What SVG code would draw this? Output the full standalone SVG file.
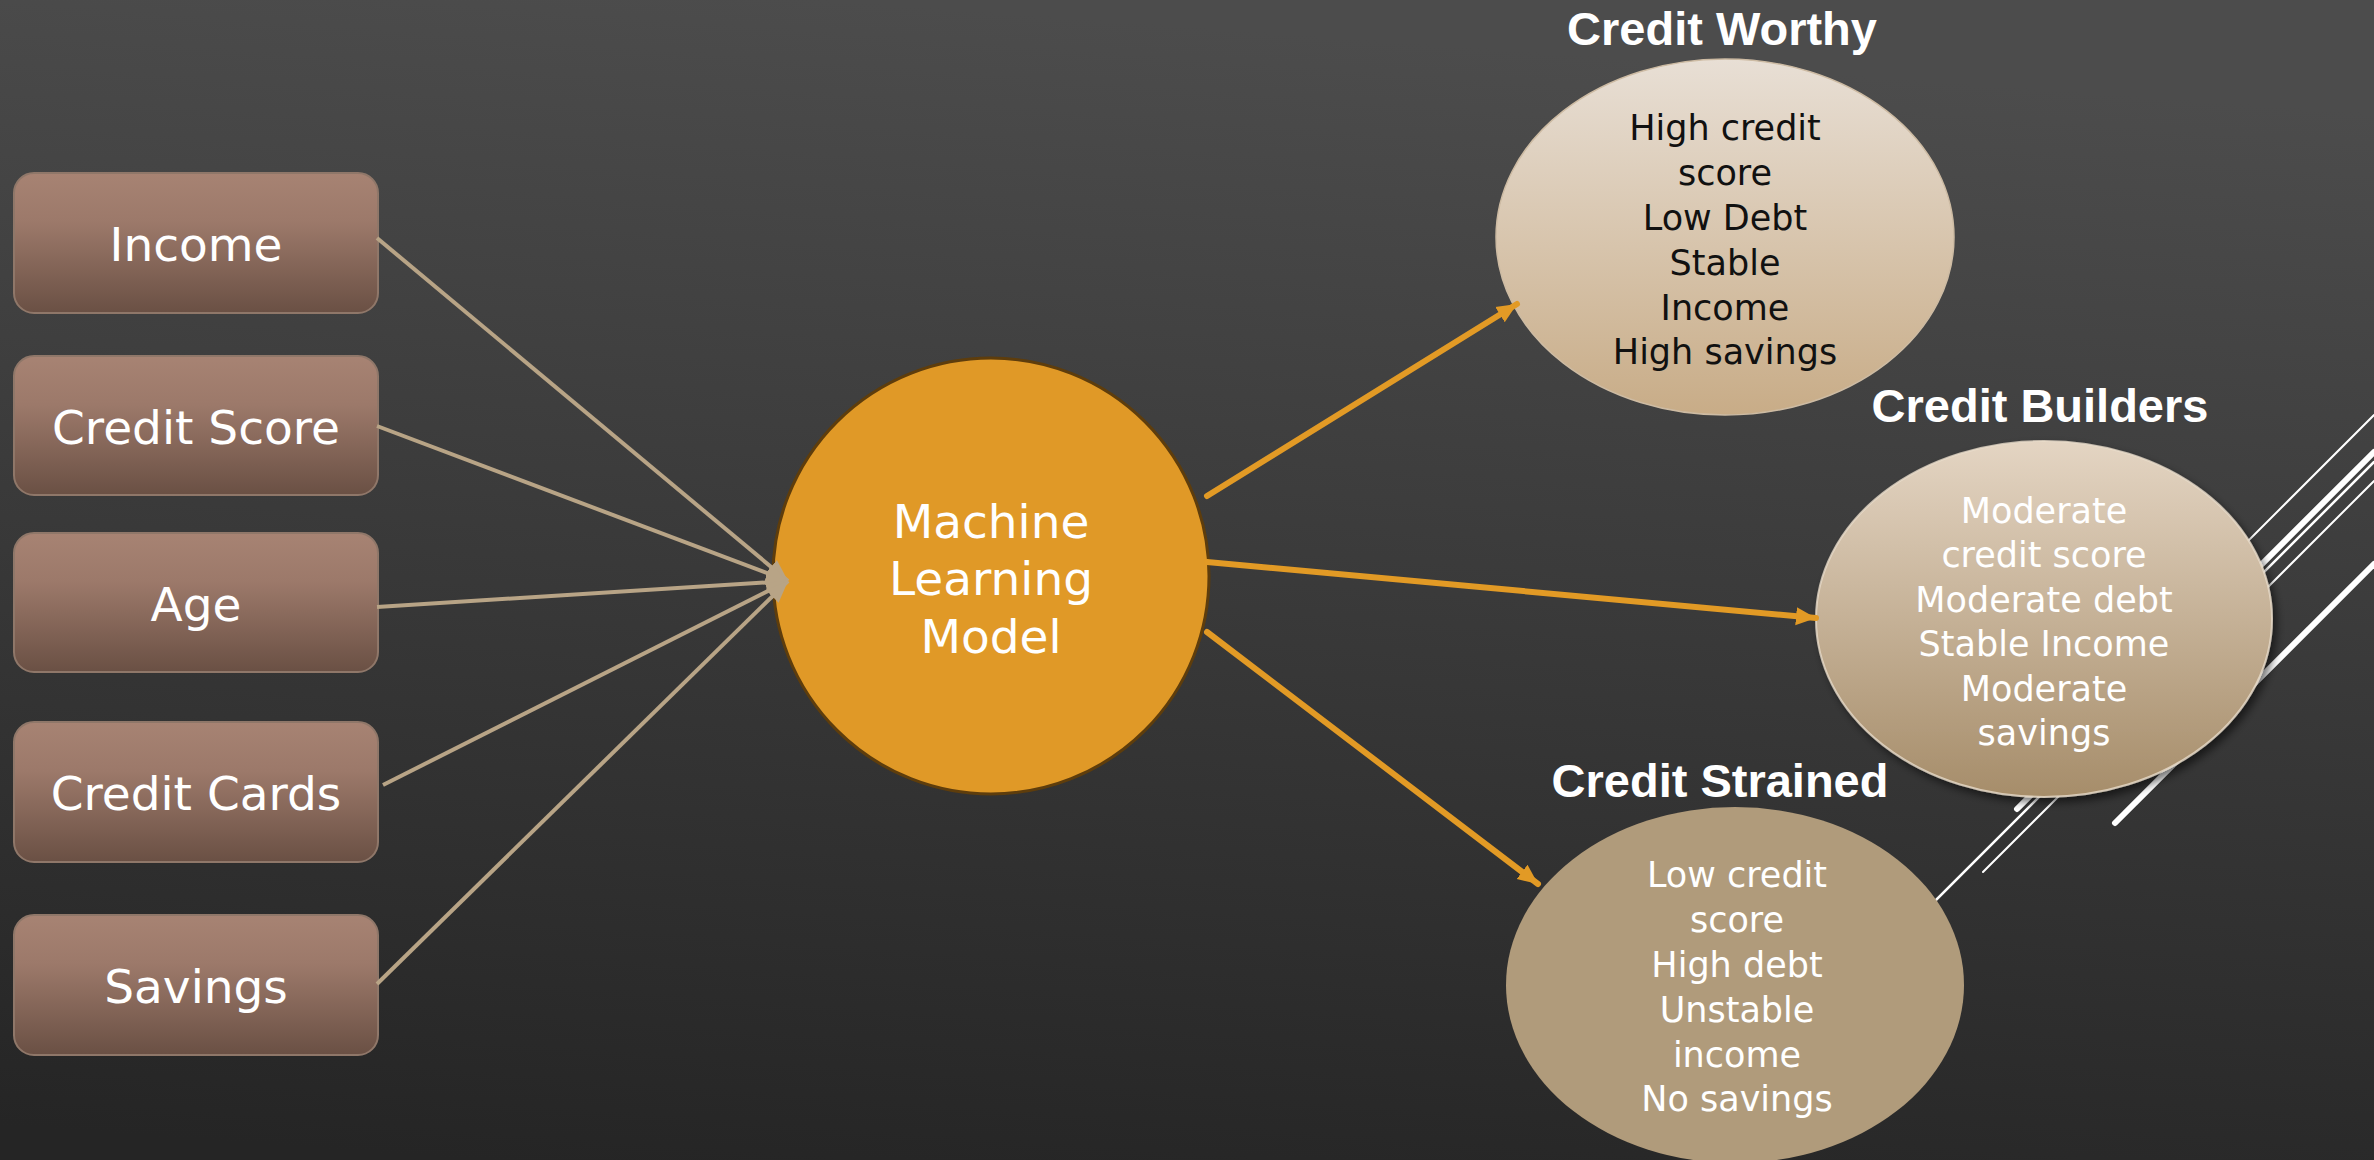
<svg xmlns="http://www.w3.org/2000/svg" width="2374" height="1160" viewBox="0 0 2374 1160">
<defs>
<linearGradient id="bg" x1="0.35" y1="0" x2="0.2" y2="1">
<stop offset="0" stop-color="#4C4C4C"/>
<stop offset="1" stop-color="#252525"/>
</linearGradient>
<linearGradient id="boxg" x1="0" y1="0" x2="0" y2="1">
<stop offset="0" stop-color="#A78373"/>
<stop offset="0.35" stop-color="#9C796A"/>
<stop offset="1" stop-color="#6A5044"/>
</linearGradient>
<linearGradient id="worthyg" x1="0" y1="0" x2="0" y2="1">
<stop offset="0" stop-color="#E8DFD5"/>
<stop offset="1" stop-color="#C8AC87"/>
</linearGradient>
<linearGradient id="buildg" x1="0" y1="0" x2="0" y2="1">
<stop offset="0" stop-color="#E4D5C3"/>
<stop offset="1" stop-color="#A68D6A"/>
</linearGradient>
<filter id="shadow" x="-10%" y="-10%" width="125%" height="130%">
<feDropShadow dx="4" dy="5" stdDeviation="4" flood-color="#000" flood-opacity="0.55"/>
</filter>
<marker id="tanHead" markerUnits="userSpaceOnUse" markerWidth="24" markerHeight="20" refX="22" refY="10" orient="auto">
<path d="M0,1 L22,10 L0,19 z" fill="#B8A486"/>
</marker>
<marker id="orHead" markerUnits="userSpaceOnUse" markerWidth="22" markerHeight="20" refX="20" refY="10" orient="auto">
<path d="M0,1 L20,10 L0,19 z" fill="#E29A25"/>
</marker>
<style>
.box{fill:url(#boxg);stroke:#8F7769;stroke-width:2}
.boxt{font-family:"DejaVu Sans","Liberation Sans",sans-serif;font-size:47px;fill:#FFFFFF;text-anchor:middle}
.title{font-family:"Liberation Sans","DejaVu Sans",sans-serif;font-weight:bold;font-size:47px;fill:#FFFFFF;text-anchor:middle}
.et{font-family:"DejaVu Sans","Liberation Sans",sans-serif;font-size:35px;text-anchor:middle}
.tan{stroke:#B8A486;stroke-width:4;fill:none;marker-end:url(#tanHead)}
.org{stroke:#E29A25;stroke-width:6;fill:none;stroke-linecap:round;marker-end:url(#orHead)}
.deco{stroke:#FFFFFF;fill:none;stroke-linecap:round}
</style>
</defs>
<rect x="0" y="0" width="2374" height="1160" fill="url(#bg)"/>
<g id="decoration">
<line class="deco" x1="2374" y1="415" x2="2180" y2="609" stroke-width="2"/>
<line class="deco" x1="2374" y1="452" x2="2017" y2="809" stroke-width="6"/>
<line class="deco" x1="2374" y1="462" x2="1890" y2="946" stroke-width="2.5"/>
<line class="deco" x1="2374" y1="481" x2="1983" y2="872" stroke-width="2"/>
<line class="deco" x1="2374" y1="564" x2="2115" y2="823" stroke-width="6"/>
</g>
<g id="node-income">
<rect class="box" x="14" y="173" width="364" height="140" rx="20"/>
<text class="boxt" x="196" y="261">Income</text>
</g>
<g id="node-credit-score">
<rect class="box" x="14" y="356" width="364" height="139" rx="20"/>
<text class="boxt" x="196" y="444">Credit Score</text>
</g>
<g id="node-age">
<rect class="box" x="14" y="533" width="364" height="139" rx="20"/>
<text class="boxt" x="196" y="621">Age</text>
</g>
<g id="node-credit-cards">
<rect class="box" x="14" y="722" width="364" height="140" rx="20"/>
<text class="boxt" x="196" y="810">Credit Cards</text>
</g>
<g id="node-savings">
<rect class="box" x="14" y="915" width="364" height="140" rx="20"/>
<text class="boxt" x="196" y="1003">Savings</text>
</g>
<g id="node-model">
<circle cx="991" cy="576" r="218" fill="#E09927" stroke="#5E3D0C" stroke-width="3"/>
<text class="boxt" font-size="48" x="991" y="538">Machine</text>
<text class="boxt" font-size="48" x="991" y="595">Learning</text>
<text class="boxt" font-size="48" x="991" y="653">Model</text>
</g>
<g id="node-credit-worthy">
<text class="title" x="1722" y="45">Credit Worthy</text>
<ellipse cx="1725" cy="237" rx="229" ry="178" fill="url(#worthyg)" stroke="#CDBBA3" stroke-width="1.5"/>
<text class="et" fill="#111111" x="1725" y="140">High credit</text>
<text class="et" fill="#111111" x="1725" y="185">score</text>
<text class="et" fill="#111111" x="1725" y="230">Low Debt</text>
<text class="et" fill="#111111" x="1725" y="275">Stable</text>
<text class="et" fill="#111111" x="1725" y="320">Income</text>
<text class="et" fill="#111111" x="1725" y="364">High savings</text>
</g>
<g id="node-credit-builders">
<text class="title" x="2040" y="422">Credit Builders</text>
<ellipse cx="2044" cy="619" rx="228" ry="178" fill="url(#buildg)" stroke="#E8DCCB" stroke-width="2" stroke-opacity="0.8" filter="url(#shadow)"/>
<text class="et" fill="#FFFFFF" x="2044" y="523">Moderate</text>
<text class="et" fill="#FFFFFF" x="2044" y="567">credit score</text>
<text class="et" fill="#FFFFFF" x="2044" y="612">Moderate debt</text>
<text class="et" fill="#FFFFFF" x="2044" y="656">Stable Income</text>
<text class="et" fill="#FFFFFF" x="2044" y="701">Moderate</text>
<text class="et" fill="#FFFFFF" x="2044" y="745">savings</text>
</g>
<g id="node-credit-strained">
<text class="title" x="1720" y="797">Credit Strained</text>
<ellipse cx="1735" cy="985" rx="229" ry="178" fill="#B09B7B"/>
<text class="et" fill="#FFFFFF" x="1737" y="887">Low credit</text>
<text class="et" fill="#FFFFFF" x="1737" y="932">score</text>
<text class="et" fill="#FFFFFF" x="1737" y="977">High debt</text>
<text class="et" fill="#FFFFFF" x="1737" y="1022">Unstable</text>
<text class="et" fill="#FFFFFF" x="1737" y="1067">income</text>
<text class="et" fill="#FFFFFF" x="1737" y="1111">No savings</text>
</g>
<g id="connectors">
<line class="tan" x1="377" y1="238" x2="788" y2="581"/>
<line class="tan" x1="377" y1="426" x2="788" y2="581"/>
<line class="tan" x1="377" y1="607" x2="788" y2="581"/>
<line class="tan" x1="383" y1="785" x2="788" y2="581"/>
<line class="tan" x1="377" y1="984" x2="788" y2="581"/>
<line class="org" x1="1207" y1="496" x2="1517" y2="304"/>
<line class="org" x1="1207" y1="562" x2="1816" y2="618"/>
<line class="org" x1="1207" y1="632" x2="1538" y2="884"/>
</g>
</svg>
